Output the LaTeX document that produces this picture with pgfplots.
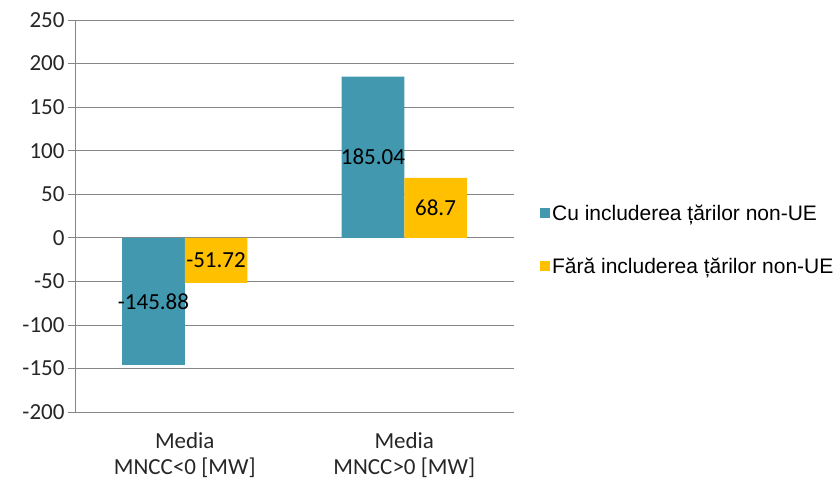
\documentclass[border=0pt]{standalone}
\usepackage{pgfplots}
\pgfplotsset{compat=1.18}
\usepackage{fontspec}
\setmainfont{Carlito}
\newfontfamily\arial{Liberation Sans}
\definecolor{cublue}{RGB}{65,152,175}
\definecolor{faray}{RGB}{255,192,0}
\definecolor{gridgray}{RGB}{134,134,134}

\begin{document}
\begin{tikzpicture}
\begin{axis}[
  name=ax,
  scale only axis, width=439bp, height=392bp,
  xmin=-0.5, xmax=1.5, ymin=-200, ymax=250,
  ytick={-200,-150,...,250},
  xtick={0,1},
  xticklabels={{Media\\MNCC<0 [MW]},{Media\\MNCC>0 [MW]}},
  xticklabel style={align=center, yshift=-10bp, font=\fontsize{23bp}{26bp}\selectfont},
  axis x line*=bottom, axis y line*=left,
  axis line style={gridgray, line width=0.75bp},
  ymajorgrids, major grid style={gridgray, line width=0.75bp},
  xtick style={draw=none},
  ytick style={gridgray, line width=0.75bp},
  tick align=outside, major tick length=7bp,
  ticklabel style={font=\fontsize{23bp}{26bp}\selectfont, text=black!85},
  /pgf/number format/assume math mode=true,
  ybar=0pt, bar width=0.285,
  visualization depends on={y \as \rawy},
  nodes near coords={\pgfmathprintnumber[assume math mode=true]{\pgfplotspointmeta}},
  nodes near coords align=center,
  every node near coord/.append style={font=\fontsize{23bp}{26bp}\selectfont, text=black,
    shift={(axis direction cs:0,{-\rawy/2})}},
  legend style={at={(rel axis cs:1.059,0.44)}, anchor=west, draw=none, fill=none,
    font=\arial\fontsize{21bp}{25bp}\selectfont, row sep=32bp, inner sep=0pt,
    nodes={inner sep=2bp}},
  legend cell align=left,
  legend image code/.code={\fill[#1] (0bp,-5bp) rectangle (10bp,5bp);},
]
\addplot[fill=cublue, draw=none] coordinates {(0,-145.88) (1,185.04)};
\addplot[fill=faray, draw=none] coordinates {(0,-51.72) (1,68.7)};
\legend{Cu includerea țărilor non-UE, Fără includerea țărilor non-UE}
\end{axis}
\pgfresetboundingbox
\path ([shift={(-75bp,-72bp)}]ax.south west) rectangle ([shift={(326bp,20bp)}]ax.north east);
\end{tikzpicture}
\end{document}
